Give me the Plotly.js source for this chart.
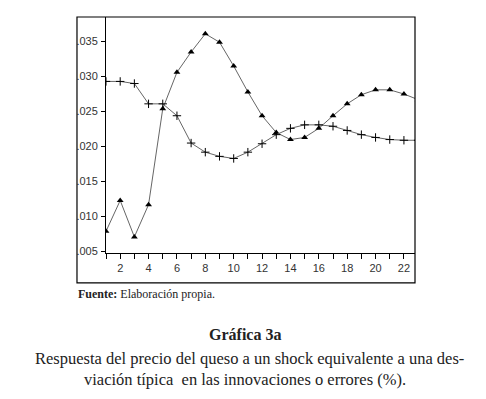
<!DOCTYPE html>
<html>
<head>
<meta charset="utf-8">
<script src="https://cdn.plot.ly/plotly-3.0.1.min.js"></script>
<style>html,body{margin:0;padding:0;background:#fff;}#chart{width:486px;height:399px;}</style>
</head>
<body>
<div id="chart"></div>
<script>
const periods = [1,2,3,4,5,6,7,8,9,10,11,12,13,14,15,16,17,18,19,20,21,22,23];
const triangleSeries = [0.0079,0.0123,0.0071,0.0117,0.0254,0.0306,0.0335,0.0361,0.0349,0.0315,0.0278,0.0244,0.0220,0.0210,0.0213,0.0226,0.0244,0.0261,0.0274,0.0281,0.0281,0.0275,0.0267];
const plusSeries = [0.0293,0.0293,0.0290,0.0261,0.0261,0.0244,0.0205,0.0192,0.0186,0.0183,0.0192,0.0204,0.0217,0.0226,0.0231,0.0231,0.0229,0.0223,0.0217,0.0213,0.0210,0.0209,0.0209];
const yTickVals = [0.005,0.010,0.015,0.020,0.025,0.030,0.035];
const yTickText = [".005",".010",".015",".020",".025",".030",".035"];
const xTickVals = [2,4,6,8,10,12,14,16,18,20,22];

const traces = [
  {x: periods, y: triangleSeries, type: 'scatter', mode: 'lines+markers',
   line: {color: '#666', width: 1},
   marker: {symbol: 'triangle-up', size: 6, color: '#000'}, cliponaxis: true},
  {x: periods, y: plusSeries, type: 'scatter', mode: 'lines+markers',
   line: {color: '#666', width: 1},
   marker: {symbol: 'cross-thin', size: 6, line: {color: '#000', width: 1}}, cliponaxis: true}
];

const serif = '"Liberation Serif"';
const layout = {
  width: 486, height: 399,
  margin: {l: 106, r: 71, t: 17, b: 146},
  paper_bgcolor: '#fff', plot_bgcolor: '#fff',
  showlegend: false,
  font: {family: 'Liberation Sans, Arial, sans-serif', size: 11, color: '#333'},
  xaxis: {range: [1, 22.78], tickvals: xTickVals, ticktext: xTickVals.map(String),
    ticks: 'outside', ticklen: 5, tickcolor: '#000', tickwidth: 1,
    minor: {dtick: 1, tick0: 1, ticks: 'outside', ticklen: 5, tickcolor: '#000', tickwidth: 1},
    showgrid: false, zeroline: false, showline: true, linecolor: '#000', linewidth: 1,
    tickfont: {size: 11, color: '#333'}},
  yaxis: {range: [0.0048, 0.0385], tickvals: yTickVals, ticktext: yTickText,
    ticks: 'outside', ticklen: 4, tickcolor: '#000', tickwidth: 1,
    showgrid: false, zeroline: false, showline: true, linecolor: '#000', linewidth: 1,
    tickfont: {size: 11, color: '#333'}, ticklabelstandoff: 1},
  shapes: [
    {type: 'rect', xref: 'paper', yref: 'paper', x0: -0.0939, x1: 1, y0: -0.127, y1: 1,
     line: {color: '#000', width: 1.2}, fillcolor: 'rgba(0,0,0,0)'}
  ],
  annotations: [
    {xref: 'paper', yref: 'paper', x: -0.097, y: -0.1737, xanchor: 'left', yanchor: 'middle', showarrow: false,
     text: '<b>Fuente:</b> Elaboración propia.', font: {family: serif, size: 12, color: '#222'}},
    {xref: 'paper', yref: 'paper', x: 0.45, y: -0.347, xanchor: 'center', yanchor: 'middle', showarrow: false,
     text: '<b>Gráfica 3a</b>', font: {family: serif, size: 16, color: '#222'}},
    {xref: 'paper', yref: 'paper', x: 0.463, y: -0.445, xanchor: 'center', yanchor: 'middle', showarrow: false,
     text: 'Respuesta del precio del queso a un shock equivalente a una des-', font: {family: serif, size: 16.5, color: '#222'}},
    {xref: 'paper', yref: 'paper', x: 0.45, y: -0.538, xanchor: 'center', yanchor: 'middle', showarrow: false,
     text: 'viación típica  en las innovaciones o errores (%).', font: {family: serif, size: 16.5, color: '#222'}}
  ]
};
Plotly.newPlot('chart', traces, layout, {displayModeBar: false, staticPlot: true});
</script>
</body>
</html>
